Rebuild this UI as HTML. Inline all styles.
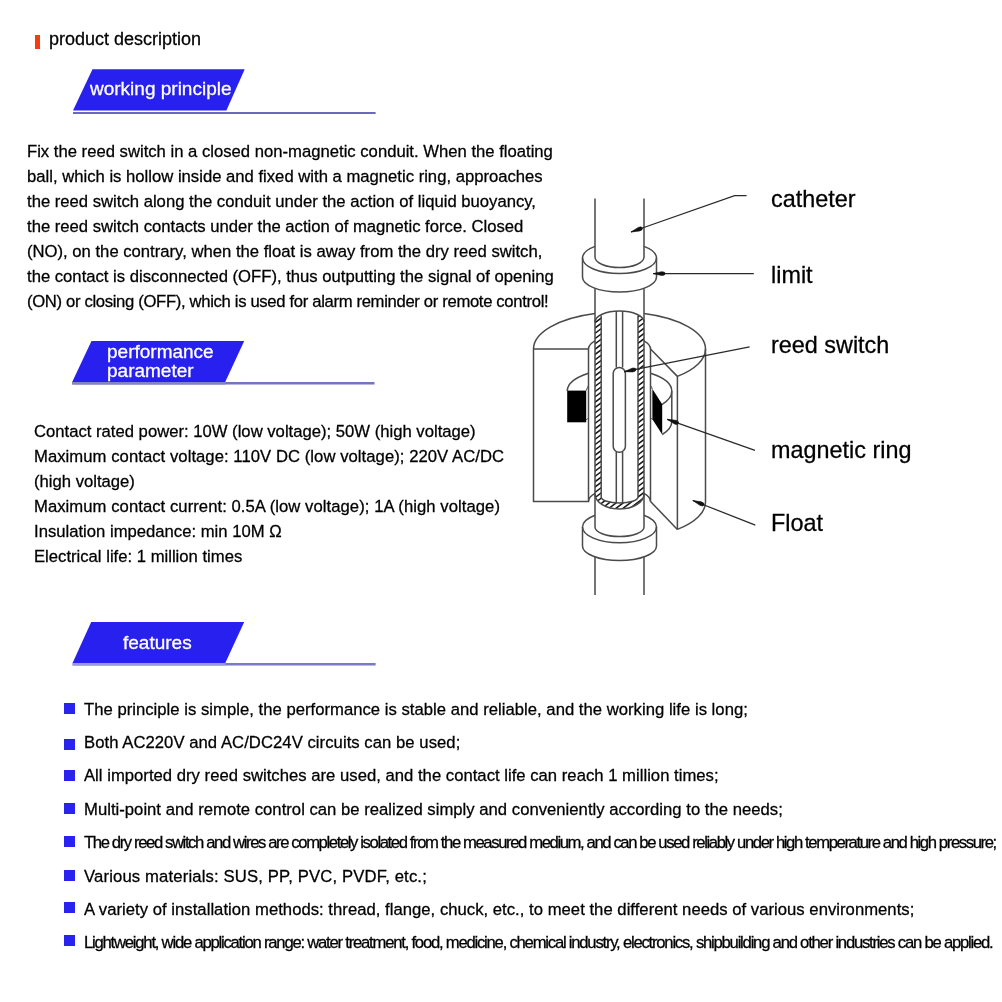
<!DOCTYPE html>
<html><head><meta charset="utf-8">
<style>
html,body{margin:0;padding:0;background:#fff;}
body{width:1002px;height:1002px;position:relative;overflow:hidden;font-family:"Liberation Sans",sans-serif;}
.t{position:absolute;white-space:nowrap;will-change:transform;-webkit-text-stroke:0.28px currentColor;}
.bul{position:absolute;left:64px;width:11.2px;height:11.2px;background:#2a22ee;}
.red{position:absolute;left:35.3px;top:35.3px;width:4.8px;height:13.5px;background:#fa3a10;}
svg{position:absolute;left:0;top:0;}
</style></head><body>
<svg width="1002" height="1002" viewBox="0 0 1002 1002"><rect x="73" y="112" width="302.6" height="2" fill="#6a6ab8"/><rect x="73" y="112" width="153.4" height="2" fill="#6a6ab8"/><polygon points="92.5,69.2 244.7,69.2 226.4,110.5 73,110.5" fill="#2820ee"/><rect x="72.2" y="382" width="302.3" height="2.5" fill="#7474c0"/><rect x="72.2" y="382" width="153.0" height="2.5" fill="#8484c4"/><polygon points="91.5,341.1 244.2,341.1 225.2,382 72.2,382" fill="#2820ee"/><rect x="72.6" y="663" width="303.0" height="2.5" fill="#7a7ac4"/><rect x="72.6" y="663" width="152.70000000000002" height="2.5" fill="#9a9ad4"/><polygon points="91.2,622 244.2,622 225.3,663 72.6,663" fill="#2820ee"/><defs><clipPath id="hc"><path d="M595,322 A24.5,11 0 0 1 644,322 L644,494 A24.5,15 0 0 1 595,494 Z"/></clipPath></defs>
<path d="M595,322 A24.5,11 0 0 1 644,322 L644,494 A24.5,15 0 0 1 595,494 Z" fill="#fff"/>
<g clip-path="url(#hc)"><path d="M590,300.00 L650,254.79 M590,305.30 L650,260.09 M590,310.60 L650,265.39 M590,315.90 L650,270.69 M590,321.20 L650,275.99 M590,326.50 L650,281.29 M590,331.80 L650,286.59 M590,337.10 L650,291.89 M590,342.40 L650,297.19 M590,347.70 L650,302.49 M590,353.00 L650,307.79 M590,358.30 L650,313.09 M590,363.60 L650,318.39 M590,368.90 L650,323.69 M590,374.20 L650,328.99 M590,379.50 L650,334.29 M590,384.80 L650,339.59 M590,390.10 L650,344.89 M590,395.40 L650,350.19 M590,400.70 L650,355.49 M590,406.00 L650,360.79 M590,411.30 L650,366.09 M590,416.60 L650,371.39 M590,421.90 L650,376.69 M590,427.20 L650,381.99 M590,432.50 L650,387.29 M590,437.80 L650,392.59 M590,443.10 L650,397.89 M590,448.40 L650,403.19 M590,453.70 L650,408.49 M590,459.00 L650,413.79 M590,464.30 L650,419.09 M590,469.60 L650,424.39 M590,474.90 L650,429.69 M590,480.20 L650,434.99 M590,485.50 L650,440.29 M590,490.80 L650,445.59 M590,496.10 L650,450.89 M590,501.40 L650,456.19 M590,506.70 L650,461.49 M590,512.00 L650,466.79 M590,517.30 L650,472.09 M590,522.60 L650,477.39 M590,527.90 L650,482.69 M590,533.20 L650,487.99 M590,538.50 L650,493.29 M590,543.80 L650,498.59 M590,549.10 L650,503.89 M590,554.40 L650,509.19 M590,559.70 L650,514.49" stroke="#151515" stroke-width="1.5" fill="none"/></g>
<path d="M601.2,300 L638,300 L638,497 A18.4,6 0 0 1 601.2,497 Z" fill="#fff"/>
<path d="M595,322 A24.5,11 0 0 1 644,322" fill="none" stroke="#4a4a4a" stroke-width="1.5" />
<path d="M601.2,315.5 V497 A18.4,6 0 0 0 638,497 V315.5" fill="none" stroke="#4a4a4a" stroke-width="1.5" />
<path d="M595,494 A24.5,15 0 0 0 644,494" fill="none" stroke="#4a4a4a" stroke-width="1.5" />
<path d="M595,198.5 V257 A24.5,10.6 0 0 0 644,257 V198.5" fill="none" stroke="#4a4a4a" stroke-width="1.5" />
<path d="M582.5,258 A37,15.5 0 0 1 595,246.4 M644,246.4 A37,15.5 0 0 1 656.5,258" fill="none" stroke="#4a4a4a" stroke-width="1.5" />
<path d="M582.5,258 A37,15.5 0 0 0 656.5,258" fill="none" stroke="#4a4a4a" stroke-width="1.5" />
<path d="M582.5,258 V277 M656.5,258 V277" fill="none" stroke="#4a4a4a" stroke-width="1.5" />
<path d="M582.5,277 A37,15 0 0 0 656.5,277" fill="none" stroke="#4a4a4a" stroke-width="1.5" />
<path d="M595,288.2 V527 M644,288.2 V527" fill="none" stroke="#4a4a4a" stroke-width="1.5" />
<path d="M533.5,349 A86,37 0 0 1 595,313.5" fill="none" stroke="#4a4a4a" stroke-width="1.5" />
<path d="M644,313.5 A86,37 0 0 1 705.5,349 A86,37 0 0 1 677.4,376.4" fill="none" stroke="#4a4a4a" stroke-width="1.5" />
<path d="M533.5,349 H588.5" fill="none" stroke="#4a4a4a" stroke-width="1.5" />
<path d="M588.5,349 A31,13.3 0 0 1 595,340.9 M644,340.9 A31,13.3 0 0 1 650.5,349" fill="none" stroke="#4a4a4a" stroke-width="1.5" />
<path d="M650.5,349 L677.4,376.4 V529.4" fill="none" stroke="#4a4a4a" stroke-width="1.5" />
<path d="M533.5,349 V501.5 H588.5 V349" fill="none" stroke="#4a4a4a" stroke-width="1.5" />
<path d="M650.5,349 V501.5" fill="none" stroke="#4a4a4a" stroke-width="1.5" />
<path d="M705.5,349 V501.5 A86,37 0 0 1 677.4,529.4" fill="none" stroke="#4a4a4a" stroke-width="1.5" />
<path d="M650.5,501.5 L677.4,529.4" fill="none" stroke="#4a4a4a" stroke-width="1.5" />
<path d="M588.5,501.5 A31,13.3 0 0 1 595,493.4 M644,493.4 A31,13.3 0 0 1 650.5,501.5" fill="none" stroke="#4a4a4a" stroke-width="1.5" />
<rect x="567.2" y="390.6" width="19" height="31.7" fill="#000"/>
<path d="M567.2,391 A52.3,22.4 0 0 1 588.5,373.3" fill="none" stroke="#4a4a4a" stroke-width="1.5" />
<path d="M586.2,390.6 Q587.6,387 588.5,385.4 M586.2,420 Q587.6,418.5 588.5,417.7" fill="none" stroke="#4a4a4a" stroke-width="1" />
<path d="M650.5,373.3 A52.3,22.4 0 0 1 671.8,391.3 A52.3,22.4 0 0 1 662.2,404.3" fill="none" stroke="#4a4a4a" stroke-width="1.5" />
<path d="M671.8,391.3 V421.5 A52.3,22.4 0 0 1 662.2,434.5" fill="none" stroke="#4a4a4a" stroke-width="1.5" />
<polygon points="652.4,389 662.2,404.3 662.2,434.5 652.4,419.3" fill="#000"/>
<path d="M650.5,385.4 Q651.5,387 652.4,389 M650.5,417.7 Q651.5,418.5 652.4,419.3" fill="none" stroke="#4a4a4a" stroke-width="1" />
<path d="M616.3,311 V367.5 M622.6,311 V367.5 M616.3,452 V502.5 M622.6,452 V502.5" fill="none" stroke="#4a4a4a" stroke-width="1.5" />
<rect x="613.2" y="367.5" width="12.2" height="84.7" rx="6" ry="6" fill="#fff" stroke="#4a4a4a" stroke-width="1.5"/>
<path d="M595,527 A24.5,9.5 0 0 0 644,527" fill="none" stroke="#4a4a4a" stroke-width="1.5" />
<path d="M582.5,527 A37,15.8 0 0 1 595,515.2 M644,515.2 A37,15.8 0 0 1 656.5,527" fill="none" stroke="#4a4a4a" stroke-width="1.5" />
<path d="M582.5,527 A37,15.8 0 0 0 656.5,527" fill="none" stroke="#4a4a4a" stroke-width="1.5" />
<path d="M582.5,527 V546 M656.5,527 V546" fill="none" stroke="#4a4a4a" stroke-width="1.5" />
<path d="M582.5,546 A37,14.5 0 0 0 656.5,546" fill="none" stroke="#4a4a4a" stroke-width="1.5" />
<path d="M595,556.9 V595 M644,556.9 V595" fill="none" stroke="#4a4a4a" stroke-width="1.5" />
<path d="M631,232 L734.6,195.6 H746.6" fill="none" stroke="#4a4a4a" stroke-width="1.25" style="stroke:#2a2a2a"/>
<path d="M631.00,232.00 L639.55,231.01 Q643.01,229.99 642.32,228.02 Q641.63,226.05 638.30,227.42 Z" fill="#111" stroke="#111" stroke-width="0.6"/>
<path d="M653.2,273.6 H753.8" fill="none" stroke="#4a4a4a" stroke-width="1.25" style="stroke:#2a2a2a"/>
<path d="M653.20,273.60 L661.60,275.50 Q665.20,275.69 665.20,273.60 Q665.20,271.51 661.60,271.70 Z" fill="#111" stroke="#111" stroke-width="0.6"/>
<path d="M624.2,371.7 L749.6,346.8" fill="none" stroke="#4a4a4a" stroke-width="1.25" style="stroke:#2a2a2a"/>
<path d="M624.20,371.70 L632.81,371.93 Q636.38,371.41 635.97,369.36 Q635.56,367.31 632.07,368.20 Z" fill="#111" stroke="#111" stroke-width="0.6"/>
<path d="M667.2,419.3 L755,450.4" fill="none" stroke="#4a4a4a" stroke-width="1.25" style="stroke:#2a2a2a"/>
<path d="M667.20,419.30 L674.48,423.90 Q677.81,425.28 678.51,423.31 Q679.21,421.34 675.75,420.31 Z" fill="#111" stroke="#111" stroke-width="0.6"/>
<path d="M692.8,500.5 L755.3,525.2" fill="none" stroke="#4a4a4a" stroke-width="1.25" style="stroke:#2a2a2a"/>
<path d="M692.80,500.50 L699.91,505.35 Q703.19,506.85 703.96,504.91 Q704.73,502.97 701.31,501.82 Z" fill="#111" stroke="#111" stroke-width="0.6"/></svg>
<div class="red"></div>
<div class="t" style="left:48.90px;top:30.00px;font-size:18px;line-height:18px;color:#000;">product description</div>
<div class="t" style="left:89.60px;top:79.00px;font-size:19px;line-height:19px;color:#fff;-webkit-text-stroke:0.3px #fff;">working principle</div>
<div class="t" style="left:27.20px;top:144.00px;font-size:16.67px;line-height:16.67px;color:#000;">Fix the reed switch in a closed non-magnetic conduit. When the floating</div>
<div class="t" style="left:27.20px;top:169.00px;font-size:16.67px;line-height:16.67px;color:#000;">ball, which is hollow inside and fixed with a magnetic ring, approaches</div>
<div class="t" style="left:27.20px;top:194.00px;font-size:16.67px;line-height:16.67px;color:#000;">the reed switch along the conduit under the action of liquid buoyancy,</div>
<div class="t" style="left:27.20px;top:219.00px;font-size:16.67px;line-height:16.67px;color:#000;">the reed switch contacts under the action of magnetic force. Closed</div>
<div class="t" style="left:27.20px;top:244.00px;font-size:16.67px;line-height:16.67px;color:#000;">(NO), on the contrary, when the float is away from the dry reed switch,</div>
<div class="t" style="left:27.20px;top:269.00px;font-size:16.67px;line-height:16.67px;color:#000;">the contact is disconnected (OFF), thus outputting the signal of opening</div>
<div class="t" style="left:27.20px;top:294.00px;font-size:16.67px;line-height:16.67px;color:#000;letter-spacing:-0.335px;">(ON) or closing (OFF), which is used for alarm reminder or remote control!</div>
<div class="t" style="left:106.70px;top:342.00px;font-size:19px;line-height:19px;color:#fff;-webkit-text-stroke:0.3px #fff;">performance</div>
<div class="t" style="left:106.70px;top:361.00px;font-size:19px;line-height:19px;color:#fff;-webkit-text-stroke:0.3px #fff;">parameter</div>
<div class="t" style="left:33.50px;top:424.00px;font-size:16.67px;line-height:16.67px;color:#000;">Contact rated power: 10W (low voltage); 50W (high voltage)</div>
<div class="t" style="left:33.50px;top:449.00px;font-size:16.67px;line-height:16.67px;color:#000;letter-spacing:0.05px;">Maximum contact voltage: 110V DC (low voltage); 220V AC/DC</div>
<div class="t" style="left:33.50px;top:474.00px;font-size:16.67px;line-height:16.67px;color:#000;">(high voltage)</div>
<div class="t" style="left:33.50px;top:499.00px;font-size:16.67px;line-height:16.67px;color:#000;letter-spacing:0.05px;">Maximum contact current: 0.5A (low voltage); 1A (high voltage)</div>
<div class="t" style="left:33.50px;top:524.00px;font-size:16.67px;line-height:16.67px;color:#000;">Insulation impedance: min 10M &Omega;</div>
<div class="t" style="left:33.50px;top:549.00px;font-size:16.67px;line-height:16.67px;color:#000;">Electrical life: 1 million times</div>
<div class="t" style="left:122.80px;top:633.00px;font-size:19px;line-height:19px;color:#fff;-webkit-text-stroke:0.3px #fff;">features</div>
<div class="t" style="left:83.90px;top:702.00px;font-size:16.67px;line-height:16.67px;color:#000;letter-spacing:0.02px;">The principle is simple, the performance is stable and reliable, and the working life is long;</div>
<div class="bul" style="top:703px"></div>
<div class="t" style="left:83.90px;top:735.00px;font-size:16.67px;line-height:16.67px;color:#000;letter-spacing:0.05px;">Both AC220V and AC/DC24V circuits can be used;</div>
<div class="bul" style="top:739px"></div>
<div class="t" style="left:83.90px;top:768.00px;font-size:16.67px;line-height:16.67px;color:#000;letter-spacing:0.015px;">All imported dry reed switches are used, and the contact life can reach 1 million times;</div>
<div class="bul" style="top:770px"></div>
<div class="t" style="left:83.90px;top:802.00px;font-size:16.67px;line-height:16.67px;color:#000;letter-spacing:0.017px;">Multi-point and remote control can be realized simply and conveniently according to the needs;</div>
<div class="bul" style="top:802.7px"></div>
<div class="t" style="left:83.90px;top:835.00px;font-size:16.67px;line-height:16.67px;color:#000;letter-spacing:-1.39px;">The dry reed switch and wires are completely isolated from the measured medium, and can be used reliably under high temperature and high pressure;</div>
<div class="bul" style="top:835.8px"></div>
<div class="t" style="left:83.90px;top:869.00px;font-size:16.67px;line-height:16.67px;color:#000;letter-spacing:0.15px;">Various materials: SUS, PP, PVC, PVDF, etc.;</div>
<div class="bul" style="top:869.5px"></div>
<div class="t" style="left:83.90px;top:902.00px;font-size:16.67px;line-height:16.67px;color:#000;letter-spacing:0.025px;">A variety of installation methods: thread, flange, chuck, etc., to meet the different needs of various environments;</div>
<div class="bul" style="top:902px"></div>
<div class="t" style="left:83.90px;top:935.00px;font-size:16.67px;line-height:16.67px;color:#000;letter-spacing:-1.223px;">Lightweight, wide application range: water treatment, food, medicine, chemical industry, electronics, shipbuilding and other industries can be applied.</div>
<div class="bul" style="top:935.3px"></div>
<div class="t" style="left:771.40px;top:188.00px;font-size:23.4px;line-height:23.4px;color:#000;">catheter</div>
<div class="t" style="left:771.40px;top:264.00px;font-size:23.4px;line-height:23.4px;color:#000;">limit</div>
<div class="t" style="left:771.40px;top:334.00px;font-size:23.4px;line-height:23.4px;color:#000;">reed switch</div>
<div class="t" style="left:771.40px;top:439.00px;font-size:23.4px;line-height:23.4px;color:#000;">magnetic ring</div>
<div class="t" style="left:771.40px;top:512.00px;font-size:23.4px;line-height:23.4px;color:#000;">Float</div>

</body></html>
